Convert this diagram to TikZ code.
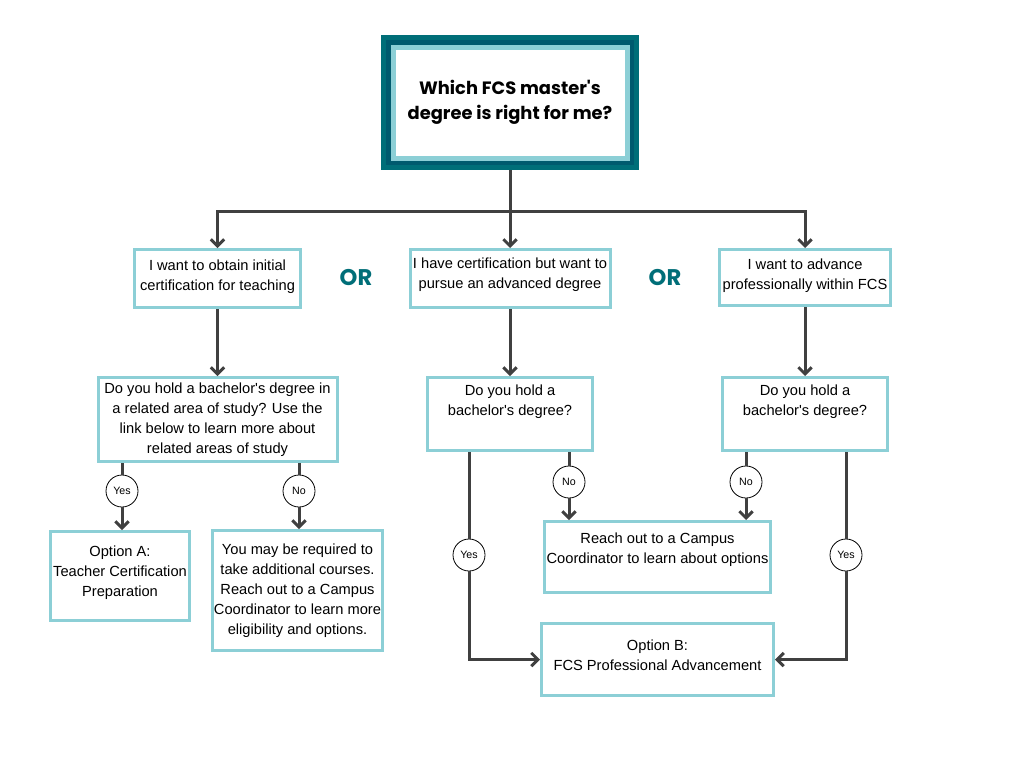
\documentclass[tikz,border=0pt]{standalone}
\usepackage{fontspec}
\setmainfont{Liberation Sans}
\newfontfamily\titlefont{Poppins}
\usepackage{tikz}
\usetikzlibrary{arrows.meta, positioning}

\definecolor{boxcyan}{HTML}{8CCFD6}
\definecolor{titleteal}{HTML}{006E78}
\definecolor{titledark}{HTML}{005A6E}
\definecolor{linegray}{HTML}{404040}

\begin{document}
\begin{tikzpicture}[x=0.75pt, y=-0.75pt,
    box/.style={draw=boxcyan, line width=2.25pt, rectangle, align=center, fill=white,
      inner xsep=1pt, font=\fontsize{11}{15}\selectfont},
    answer/.style={draw=black, line width=0.6pt, circle, fill=white, minimum size=24pt,
      inner sep=0pt, font=\fontsize{8}{9}\selectfont},
    flow/.style={draw=linegray, line width=2.25pt, -{Straight Barb[length=5pt, width=10pt]}},
    plain/.style={draw=linegray, line width=2.25pt},
    ortext/.style={text=titleteal, font=\titlefont\bfseries\fontsize{17}{18}\selectfont}]

    \useasboundingbox[fill=white] (0,0) rectangle (1024,768);

    % Title frame
    \fill[titleteal] (381,35) rectangle (639,170);
    \fill[titledark] (386,40) rectangle (634,165);
    \fill[boxcyan] (391,45) rectangle (630,161);
    \fill[white] (396,50) rectangle (625,156);
    \node (title) at (510,102.5) [minimum width=193.5pt, minimum height=101.25pt, align=center,
      font=\titlefont\bfseries\fontsize{13.4}{18.75}\selectfont] {Which FCS master\textquotesingle s\\degree is right for me?};
    \coordinate (split) at (510,211);

    % Nodes for the three starting points
    \node (initial) at (217.5,278.5) [box, minimum width=124.5pt, minimum height=43.5pt, text depth=5.5pt] {I want to obtain initial\\certification for teaching};
    \node (advanced) at (510,278.5) [box, minimum width=150pt, minimum height=43.5pt, text depth=8.5pt] {I have certification but want to\\pursue an advanced degree};
    \node (profess) at (805,277.5) [box, minimum width=128.25pt, minimum height=42pt, text depth=5.5pt] {I want to advance\\professionally within FCS};
    \node (orleft) at (356,278) [ortext] {OR};
    \node (orright) at (665,278) [ortext] {OR};

    % Nodes for the questions
    \node (relatedq) at (217.5,419.5) [box, minimum width=179.25pt, minimum height=63pt] {Do you hold a bachelor\textquotesingle s degree in\\a related area of study? Use the\\link below to learn more about\\related areas of study};
    \node (degreeB) at (510,414) [box, minimum width=123.75pt, minimum height=54.75pt, text depth=20pt] {Do you hold a\\bachelor\textquotesingle s degree?};
    \node (degreeC) at (805,414) [box, minimum width=123.75pt, minimum height=54.75pt, text depth=20pt] {Do you hold a\\bachelor\textquotesingle s degree?};

    % Nodes for the outcomes
    \node (optionA) at (120,576) [box, minimum width=104.25pt, minimum height=66.75pt, text depth=7pt] {Option A:\\Teacher Certification\\Preparation};
    \node (courses) at (297.5,590.5) [box, minimum width=127.5pt, minimum height=90pt] {You may be required to\\take additional courses.\\Reach out to a Campus\\Coordinator to learn more\\eligibility and options.};
    \node (reach) at (657.5,557) [box, minimum width=169.5pt, minimum height=53.25pt, text depth=13pt] {Reach out to a Campus\\Coordinator to learn about options};
    \node (optionB) at (657.5,659.5) [box, minimum width=174pt, minimum height=54pt, text depth=7pt] {Option B:\\FCS Professional Advancement};

    % Yes and No answers
    \node (yesA) at (122,491) [answer] {Yes};
    \node (noA) at (299,491) [answer] {No};
    \node (noB) at (569,482) [answer] {No};
    \node (noC) at (746,482) [answer] {No};
    \node (yesB) at (469,555) [answer] {Yes};
    \node (yesC) at (846,555) [answer] {Yes};

    % Draw arrows from the title to each starting point
    \draw[plain] (title) -- (split);
    \draw[flow] (split) -| (initial.north);
    \draw[flow] (split) -| (profess.north);
    \draw[flow] (split) -- (advanced);

    % Draw arrows down to the questions
    \draw[flow] (initial) -- (relatedq);
    \draw[flow] (advanced) -- (degreeB);
    \draw[flow] (profess) -- (degreeC);

    % Draw arrows through the answers
    \draw[plain] (relatedq.south -| yesA) -- (yesA);
    \draw[flow] (yesA) -- (yesA |- optionA.north);
    \draw[plain] (relatedq.south -| noA) -- (noA);
    \draw[flow] (noA) -- (noA |- courses.north);
    \draw[plain] (degreeB.south -| noB) -- (noB);
    \draw[flow] (noB) -- (noB |- reach.north);
    \draw[plain] (degreeC.south -| noC) -- (noC);
    \draw[flow] (noC) -- (noC |- reach.north);
    \draw[plain] (degreeB.south -| yesB) -- (yesB);
    \draw[flow] (yesB) |- (optionB.west);
    \draw[plain] (degreeC.south -| yesC) -- (yesC);
    \draw[flow] (yesC) |- (optionB.east);

\end{tikzpicture}
\end{document}
